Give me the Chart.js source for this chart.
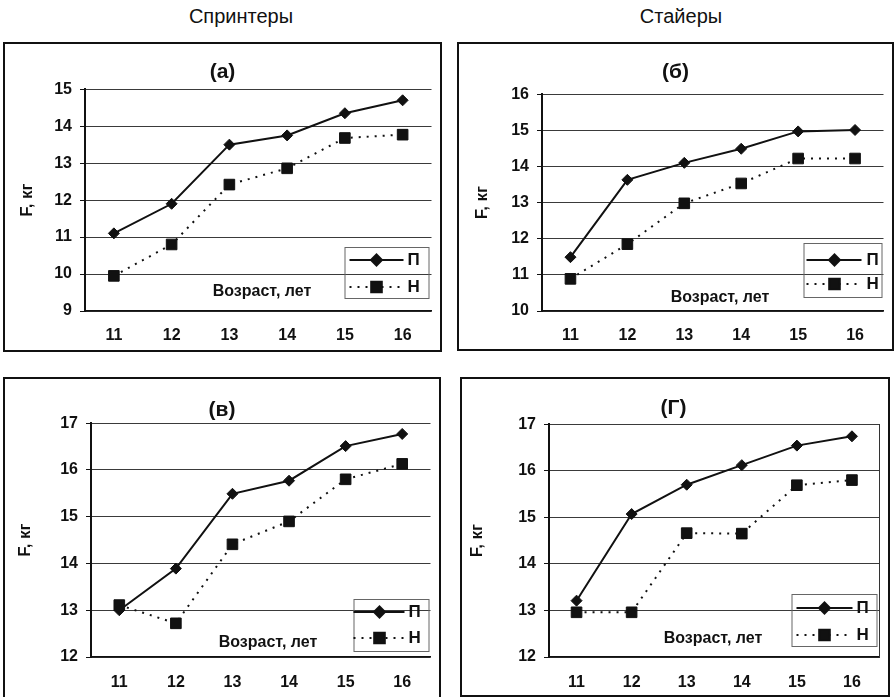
<!DOCTYPE html>
<html>
<head>
<meta charset="utf-8">
<script src="https://cdn.jsdelivr.net/npm/chart.js@4.4.0/dist/chart.umd.min.js"></script>
<style>
    body { margin: 0; width: 894px; height: 697px; background: #fff; position: relative; overflow: hidden; font-family: "Liberation Sans", Arial, sans-serif; }
    .head { position: absolute; top: 4px; font-size: 20px; line-height: 24px; color: #111; transform: translateX(-50%); white-space: nowrap; }
    .panel { position: absolute; box-sizing: border-box; border: 2px solid #111; overflow: hidden; background: #fff; }
    .panel canvas { display: block; }
</style>
</head>
<body>
<div class="head" style="left:241px">Спринтеры</div>
<div class="head" style="left:681px">Стайеры</div>
<div class="panel" id="p0"><canvas></canvas></div>
<div class="panel" id="p1"><canvas></canvas></div>
<div class="panel" id="p2"><canvas></canvas></div>
<div class="panel" id="p3"><canvas></canvas></div>

<script>
const FONT = '"Liberation Sans", Arial, sans-serif';
const INK = '#111';

// --- DATA ---
const ages = ['11', '12', '13', '14', '15', '16'];
const panelTitles = ['(а)', '(б)', '(в)', '(Г)'];
const yLabel = 'F, кг';
const xCaption = 'Возраст, лет';
const seriesNames = ['П', 'Н'];
const yMin = [9, 10, 12, 12];
const yMax = [15, 16, 17, 17];

// (а) sprinters, (б) stayers - top row
const sprintP = [11.1, 11.9, 13.5, 13.75, 14.35, 14.7];
const sprintN = [9.95, 10.8, 12.42, 12.86, 13.68, 13.77];
const stayP = [11.49, 13.63, 14.1, 14.49, 14.97, 15.01];
const stayN = [10.89, 11.85, 12.98, 13.53, 14.22, 14.22];
// (в) sprinters, (Г) stayers - bottom row
const sprintP2 = [13.0, 13.89, 15.49, 15.77, 16.51, 16.77];
const sprintN2 = [13.11, 12.72, 14.41, 14.9, 15.8, 16.13];
const stayP2 = [13.21, 15.07, 15.7, 16.12, 16.54, 16.74];
const stayN2 = [12.96, 12.96, 14.66, 14.65, 15.69, 15.8];

const valuesP = [sprintP, stayP, sprintP2, stayP2];
const valuesN = [sprintN, stayN, sprintN2, stayN2];

// --- LAYOUT (pixels) ---
const layout = [
    { box: [3, 42, 439, 310], yW: 80, xH: 39, tTop: 16, tBot: 4, padR: 0, yTitlePad: 12, xPad: 15,
      cap: [177, 19], lg: [87, 64, 84, 51], rows: [51, 24], line: [82, 28], mark: 55, text: 24 },
    { box: [457, 42, 437, 309], yW: 83, xH: 38, tTop: 16, tBot: 9, padR: 0, yTitlePad: 13, xPad: 15,
      cap: [178, 13], lg: [80, 68, 78, 54], rows: [51, 27], line: [77, 22], mark: 49, text: 17 },
    { box: [3, 377, 438, 330], yW: 86, xH: 48, tTop: 19, tBot: 0, padR: 0, yTitlePad: 10, xPad: 16,
      cap: [177, 14], lg: [77, 58, 75, 52], rows: [45, 19], line: [77, 26], mark: 51, text: 22 },
    { box: [460, 377, 430, 320], yW: 87, xH: 38, tTop: 17, tBot: 3, padR: 3, yTitlePad: 5, xPad: 16,
      cap: [164, 18], lg: [88, 63, 85, 52], rows: [49, 22], line: [83, 27], mark: 55, text: 23 }
];

function drawMark(ctx, style, r, x, y) {
    if (Chart.helpers && Chart.helpers.drawPoint) {
        Chart.helpers.drawPoint(ctx, { pointStyle: style, radius: r, borderWidth: 1, rotation: 0 }, x, y);
        return;
    }
    ctx.beginPath();
    if (style === 'rect') {
        const h = r * Math.SQRT1_2;
        ctx.rect(x - h, y - h, 2 * h, 2 * h);
    } else {
        ctx.moveTo(x, y - r); ctx.lineTo(x + r, y); ctx.lineTo(x, y + r); ctx.lineTo(x - r, y); ctx.closePath();
    }
    ctx.fill();
}

function extrasFor(g) {
    return {
        id: 'extras',
        afterDraw(chart) {
            const { ctx, chartArea: a } = chart;
            const R = a.right, B = a.bottom;
            ctx.save();
            ctx.fillStyle = INK;
            ctx.font = 'bold 16px ' + FONT;
            ctx.textAlign = 'center';
            ctx.textBaseline = 'middle';
            ctx.fillText(xCaption, a.left + g.cap[0], B - g.cap[1]);

            // legend frame
            ctx.strokeStyle = '#666';
            ctx.lineWidth = 1;
            ctx.strokeRect(R - g.lg[0] + 0.5, B - g.lg[1] + 0.5, g.lg[2], g.lg[3]);

            chart.data.datasets.forEach((ds, k) => {
                const y = B - g.rows[k];
                ctx.strokeStyle = ds.borderColor;
                ctx.lineWidth = ds.borderWidth;
                ctx.setLineDash(ds.borderDash || []);
                ctx.beginPath();
                ctx.moveTo(R - g.line[0], y);
                ctx.lineTo(R - g.line[1], y);
                ctx.stroke();
                ctx.setLineDash([]);
                ctx.fillStyle = ds.backgroundColor;
                ctx.strokeStyle = ds.borderColor;
                drawMark(ctx, ds.pointStyle, ds.pointRadius, R - g.mark, y);
                ctx.fillStyle = INK;
                ctx.font = 'bold 17px ' + FONT;
                ctx.textAlign = 'left';
                ctx.fillText(ds.label, R - g.text, y);
            });
            ctx.restore();
        }
    };
}

function makeChart(i) {
    const g = layout[i];
    const wrap = document.getElementById('p' + i);
    wrap.style.left = g.box[0] + 'px';
    wrap.style.top = g.box[1] + 'px';
    wrap.style.width = g.box[2] + 'px';
    wrap.style.height = g.box[3] + 'px';
    const cv = wrap.querySelector('canvas');
    cv.width = g.box[2] - 4;
    cv.height = g.box[3] - 4;

    const tickFont = { family: FONT, size: 16, weight: 'bold' };
    const scales = {
        x: {
            offset: true,
            grid: { drawOnChartArea: false, drawTicks: false },
            border: { color: INK, width: 1.5 },
            ticks: { font: tickFont, color: INK, padding: g.xPad, maxRotation: 0 },
            afterFit: s => { s.height = g.xH; }
        },
        y: {
            min: yMin[i], max: yMax[i],
            ticks: { stepSize: 1, font: tickFont, color: INK, padding: 8 },
            grid: { color: '#3a3a3a', lineWidth: 1, tickLength: 5, tickColor: INK },
            border: { color: INK, width: 2 },
            title: { display: true, text: yLabel, color: INK, font: { family: FONT, size: 17, weight: 'bold' },
                     padding: { top: g.yTitlePad, bottom: 0 } },
            afterFit: s => { s.width = g.yW; }
        }
    };
    if (i === 3) {
        scales.y2 = {
            position: 'right', min: yMin[i], max: yMax[i],
            ticks: { display: false },
            grid: { drawOnChartArea: false, drawTicks: false },
            border: { color: '#333', width: 1 },
            afterFit: s => { s.width = 0; }
        };
    }

    new Chart(cv, {
        type: 'line',
        data: {
            labels: ages,
            datasets: [
                { label: seriesNames[0], data: valuesP[i], borderColor: INK, backgroundColor: INK, borderWidth: 2,
                  pointStyle: 'rectRot', pointRadius: 5.5, pointBorderWidth: 1, tension: 0 },
                { label: seriesNames[1], data: valuesN[i], borderColor: INK, backgroundColor: INK, borderWidth: 2,
                  borderDash: [2, 6], pointStyle: 'rect', pointRadius: 7.5, pointBorderWidth: 1, tension: 0 }
            ]
        },
        options: {
            responsive: false, animation: false, devicePixelRatio: 1,
            layout: { padding: { right: g.padR } },
            plugins: {
                legend: { display: false },
                tooltip: { enabled: false },
                title: { display: true, text: panelTitles[i], color: INK,
                         font: { family: FONT, size: 21, weight: 'bold' },
                         padding: { top: g.tTop, bottom: g.tBot } }
            },
            scales: scales
        },
        plugins: [extrasFor(g)]
    });
}

document.addEventListener('DOMContentLoaded', () => { [0, 1, 2, 3].forEach(makeChart); });
</script>
</body>
</html>
